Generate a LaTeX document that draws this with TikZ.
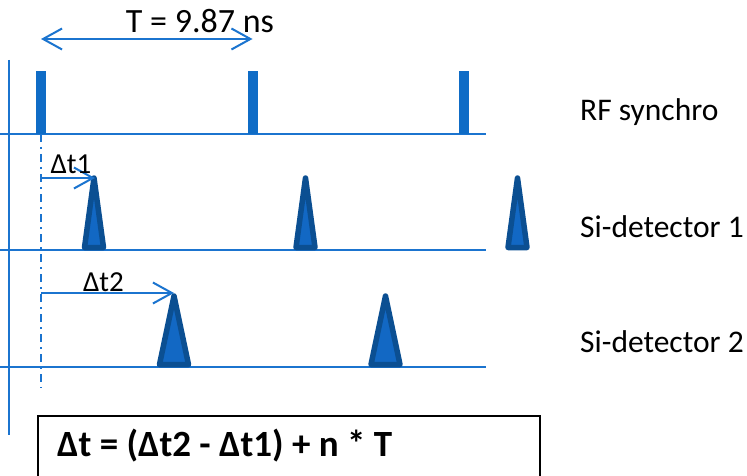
\documentclass[tikz,border=0pt]{standalone}
\usepackage{fontspec}
\setmainfont{Carlito}
\usetikzlibrary{arrows.meta}
\definecolor{lineblue}{HTML}{1B74CF}
\definecolor{pulseblue}{HTML}{0F6CC6}
\definecolor{trifill}{HTML}{1268C4}
\definecolor{triedge}{HTML}{0B4F92}
\tikzset{
  axisline/.style={draw=lineblue, line width=2pt},
  pulse/.style={fill=pulseblue, draw=none},
  spike/.style={fill=trifill, draw=triedge, line width=5.5pt, line join=round},
  timearrow/.style={draw=lineblue, line width=2pt, -{Straight Barb[length=19pt,width=21pt,line width=2pt]}},
  periodarrow/.style={draw=lineblue, line width=2pt, {Straight Barb[length=19pt,width=21pt,line width=2pt]}-{Straight Barb[length=19pt,width=21pt,line width=2pt]}},
  lbl/.style={font=\fontsize{31.5}{36}\selectfont, inner sep=0pt, anchor=west},
  dtlbl/.style={font=\fontsize{29}{33}\selectfont, inner sep=0pt},
}
\begin{document}
\begin{tikzpicture}[x=1pt,y=-1pt]
\useasboundingbox (0,0) rectangle (747,476);
% axis
\draw[axisline] (9,60) -- (9,435);
% baselines
\draw[axisline] (0,134) -- (486,134);
\draw[axisline] (0,250) -- (486,250);
\draw[axisline] (0,367) -- (486,367);
% reference dash-dot line
\draw[draw=lineblue, line width=2pt, dash pattern=on 8pt off 5pt on 2pt off 5pt] (41,134) -- (41,388);
% RF pulses
\foreach \c in {41,252.5,464}{
  \fill[pulse] (\c-5,71) rectangle (\c+5,134);
}
% Si-detector 1 spikes
\foreach \c in {94,305.5,517.5}{
  \draw[spike] (\c,178) -- (\c+9.5,247.5) -- (\c-9.5,247.5) -- cycle;
}
% Si-detector 2 spikes
\foreach \c in {174,385.5}{
  \draw[spike] (\c,296) -- (\c+14.5,364.5) -- (\c-14.5,364.5) -- cycle;
}
% coordinates
\coordinate (tA) at (41,39);
\coordinate (tB) at (252.5,39);
\coordinate (d1A) at (41,178);
\coordinate (d1B) at (95,178);
\coordinate (d2A) at (41,293);
\coordinate (d2B) at (174,293);
% arrows
\draw[periodarrow] (tA) -- (tB);
\draw[timearrow] (d1A) -- (d1B);
\draw[timearrow] (d2A) -- (d2B);
% labels
\node[font=\fontsize{34}{38}\selectfont, inner sep=0pt] (T) at (200,21) {T = 9.87 ns};
\node[dtlbl] (dt1) at (71,164) {Δt1};
\node[dtlbl] (dt2) at (103.5,282) {Δt2};
\node[lbl] (rf) at (580,112) {RF synchro};
\node[lbl] (s1) at (580,227) {Si-detector 1};
\node[lbl] (s2) at (580,342) {Si-detector 2};
% formula box
\draw[black, line width=1.5pt] (38,495) -- (38,416) -- (540,416) -- (540,495);
\node[font=\fontsize{37}{42}\selectfont\bfseries, inner sep=0pt, anchor=west] (f) at (57,446) {Δt = (Δt2 - Δt1) + n * T};
\end{tikzpicture}
\end{document}
